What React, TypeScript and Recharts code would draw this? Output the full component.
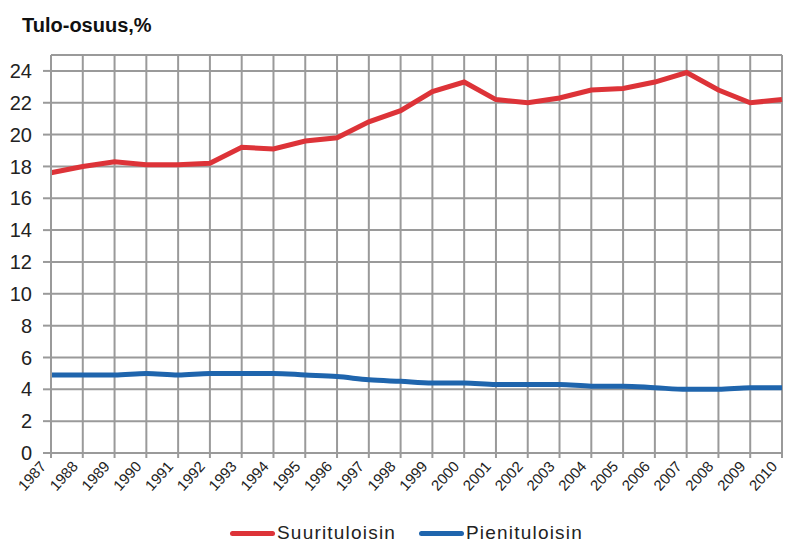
import { LineChart, Line, XAxis, YAxis, CartesianGrid, Legend } from 'recharts'

const years = [
  '1987', '1988', '1989', '1990', '1991', '1992', '1993', '1994', '1995', '1996', '1997', '1998',
  '1999', '2000', '2001', '2002', '2003', '2004', '2005', '2006', '2007', '2008', '2009', '2010',
]
const suurituloisin = [
  17.6, 18.0, 18.3, 18.1, 18.1, 18.2, 19.2, 19.1, 19.6, 19.8, 20.8, 21.5,
  22.7, 23.3, 22.2, 22.0, 22.3, 22.8, 22.9, 23.3, 23.9, 22.8, 22.0, 22.2,
]
const pienituloisin = [
  4.9, 4.9, 4.9, 5.0, 4.9, 5.0, 5.0, 5.0, 4.9, 4.8, 4.6, 4.5,
  4.4, 4.4, 4.3, 4.3, 4.3, 4.2, 4.2, 4.1, 4.0, 4.0, 4.1, 4.1,
]
const yTicks = [0, 2, 4, 6, 8, 10, 12, 14, 16, 18, 20, 22, 24]

const RED = '#dd3338'
const BLUE = '#1f65ad'
const GRID = '#9a9a9a'
const FONT = '"Liberation Sans", Arial, sans-serif'

const data = years.map((y, i) => ({
  year: y,
  Suurituloisin: suurituloisin[i],
  Pienituloisin: pienituloisin[i],
}))

const XTick = ({ x, y, payload }: { x?: number; y?: number; payload?: { value: string } }) => (
  <g transform={`translate(${(x ?? 0) - 4},${(y ?? 0) + 9})`}>
    <text x={0} y={0} textAnchor="end" transform="rotate(-48)" fontSize={15} fill="#222" fontFamily={FONT}>
      {payload?.value}
    </text>
  </g>
)

const LegendContent = () => (
  <div style={{ position: 'relative', height: 40, fontFamily: FONT, fontSize: 19, lineHeight: '20px', color: '#222', letterSpacing: 1.2 }}>
    {[
      { name: 'Suurituloisin', color: RED, left: 230 },
      { name: 'Pienituloisin', color: BLUE, left: 419 },
    ].map((item) => (
      <div key={item.name} style={{ position: 'absolute', left: item.left, top: 18, height: 20, display: 'flex', alignItems: 'center' }}>
        <span style={{ display: 'inline-block', width: 45, height: 5, borderRadius: 3, background: item.color, marginRight: 2 }} />
        <span>{item.name}</span>
      </div>
    ))}
  </div>
)

export default function App() {
  return (
    <div style={{ position: 'absolute', left: 0, top: 0, width: 785, height: 545, background: '#fff' }}>
      <div style={{ position: 'absolute', left: 22, top: 14, fontFamily: FONT, fontWeight: 'bold', fontSize: 20, color: '#111' }}>
        Tulo-osuus,%
      </div>
      <LineChart width={785} height={545} data={data} margin={{ top: 55, right: 3, left: 0, bottom: 0 }}>
        <CartesianGrid stroke={GRID} strokeWidth={2} />
        <XAxis
          dataKey="year"
          interval={0}
          height={52}
          tickSize={5}
          tickMargin={0}
          axisLine={{ stroke: GRID, strokeWidth: 2 }}
          tickLine={{ stroke: GRID, strokeWidth: 2 }}
          tick={<XTick />}
        />
        <YAxis
          width={51}
          domain={[0, 25]}
          ticks={yTicks}
          interval={0}
          tickSize={8}
          tickMargin={11}
          axisLine={{ stroke: GRID, strokeWidth: 2 }}
          tickLine={{ stroke: GRID, strokeWidth: 2 }}
          tick={{ fill: '#222', fontSize: 20, fontFamily: FONT }}
        />
        <Legend verticalAlign="bottom" height={40} content={<LegendContent />} wrapperStyle={{ left: 0, width: 785 }} />
        <Line
          type="linear"
          dataKey="Suurituloisin"
          stroke={RED}
          strokeWidth={5}
          dot={false}
          isAnimationActive={false}
        />
        <Line
          type="monotone"
          dataKey="Pienituloisin"
          stroke={BLUE}
          strokeWidth={5}
          dot={false}
          isAnimationActive={false}
        />
      </LineChart>
    </div>
  )
}
